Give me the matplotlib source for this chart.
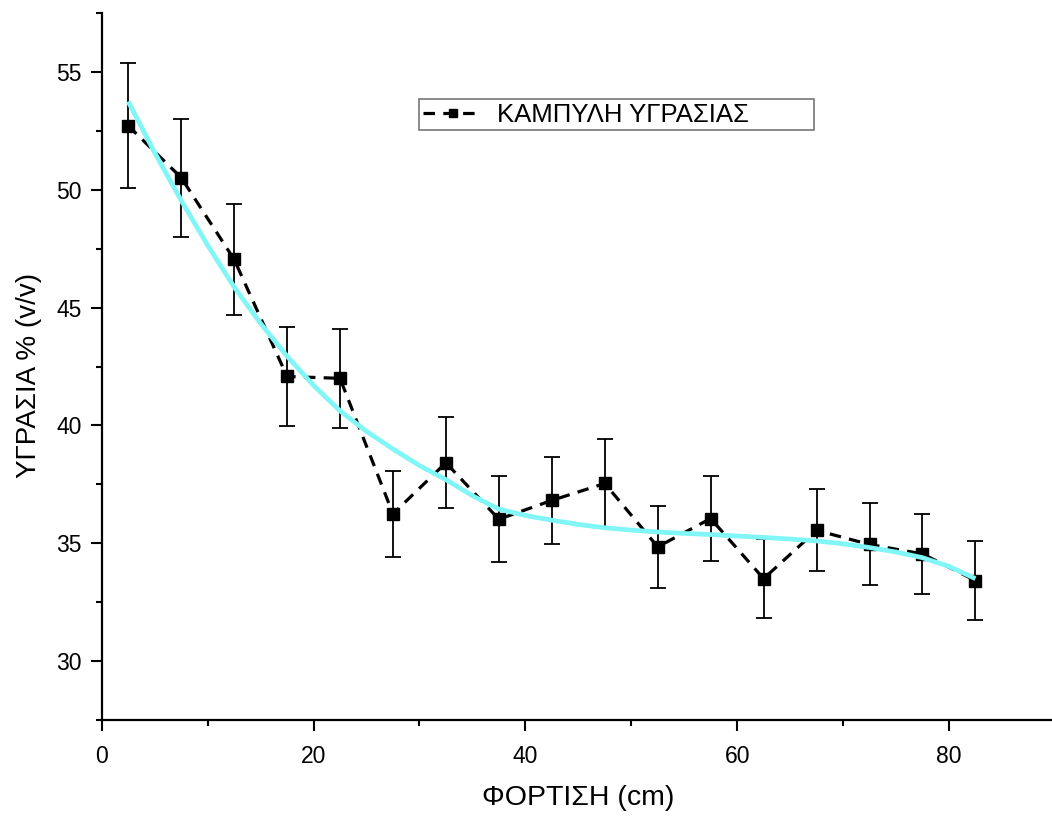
import numpy as np
import matplotlib.pyplot as plt

plt.rcParams['font.family'] = ['Liberation Sans', 'DejaVu Sans']

# measured moisture profile
depth = [2.5, 7.5, 12.5, 17.5, 22.5, 27.5, 32.5, 37.5, 42.5, 47.5,
         52.5, 57.5, 62.5, 67.5, 72.5, 77.5, 82.5]
moist = [52.72, 50.52, 47.05, 42.08, 42.0, 36.25, 38.42, 36.02, 36.82, 37.54,
         34.85, 36.05, 33.5, 35.55, 34.95, 34.55, 33.42]
err = [2.65, 2.5, 2.35, 2.1, 2.1, 1.82, 1.92, 1.82, 1.83, 1.87,
       1.73, 1.8, 1.68, 1.74, 1.74, 1.7, 1.66]

# fitted curve
fit_x = [2.5, 5, 7.5, 10, 12.5, 15, 17.5, 20, 22.5, 25, 27.5, 30, 32.5, 35,
         37.5, 40, 42.5, 45, 47.5, 50, 52.5, 55, 57.5, 60, 62.5, 65, 67.5,
         70, 72.5, 75, 77.5, 80, 82.5]
fit_y = [53.75, 51.58, 49.55, 47.65, 45.88, 44.33, 42.94, 41.7, 40.62, 39.75,
         39.0, 38.3, 37.7, 37.02, 36.45, 36.18, 35.98, 35.8, 35.66, 35.56,
         35.48, 35.42, 35.37, 35.31, 35.25, 35.18, 35.1, 34.98, 34.82, 34.63,
         34.39, 34.02, 33.5]

fig = plt.figure(figsize=(10.52, 8.21), dpi=100)
ax = fig.add_axes([0.0967, 0.123, 0.906, 0.861])

ax.errorbar(depth, moist, yerr=err, fmt='none', ecolor='black',
            elinewidth=1.3, capsize=5.5, capthick=1.3, zorder=2)
ax.plot(depth, moist, color='black', lw=2.3, dashes=(3.6, 2.6),
        marker='s', ms=9, mfc='black', mec='black',
        label='ΚΑΜΠΥΛΗ ΥΓΡΑΣΙΑΣ', zorder=3)
ax.plot(fit_x, fit_y, color='#80f6f6', lw=3.4, zorder=4,
        solid_capstyle='butt')

ax.set_xlim(0, 90)
ax.set_ylim(27.5, 57.5)
ax.set_xticks([0, 20, 40, 60, 80])
ax.set_xticks([10, 30, 50, 70, 90], minor=True)
ax.set_yticks([30, 35, 40, 45, 50, 55])
ax.set_yticks(np.arange(27.5, 58, 5), minor=True)

for s in ['top', 'right']:
    ax.spines[s].set_visible(False)
for s in ['left', 'bottom']:
    ax.spines[s].set_linewidth(1.6)

ax.tick_params(which='major', length=8, width=1.5, labelsize=16.5, pad=6.5)
ax.tick_params(which='minor', length=4.5, width=1.5)
ax.tick_params(axis='x', which='major', pad=10)

ax.set_xlabel('ΦΟΡΤΙΣΗ (cm)', fontsize=20.5, labelpad=12)
ax.set_ylabel('ΥΓΡΑΣΙΑ % (v/v)', fontsize=20, labelpad=9)
ax.yaxis.set_label_coords(-0.0625, 0.488)

leg = ax.legend(loc='lower left', bbox_to_anchor=(0.333, 0.834, 0.414, 0.046),
                mode='expand', fontsize=18.5, markerscale=0.7, handlelength=2.3,
                handletextpad=0.6, frameon=True, fancybox=False,
                borderpad=0.15, borderaxespad=0)
leg.get_frame().set_edgecolor('#555555')
leg.get_frame().set_linewidth(1.2)

fig.savefig('out.png', dpi=100)
